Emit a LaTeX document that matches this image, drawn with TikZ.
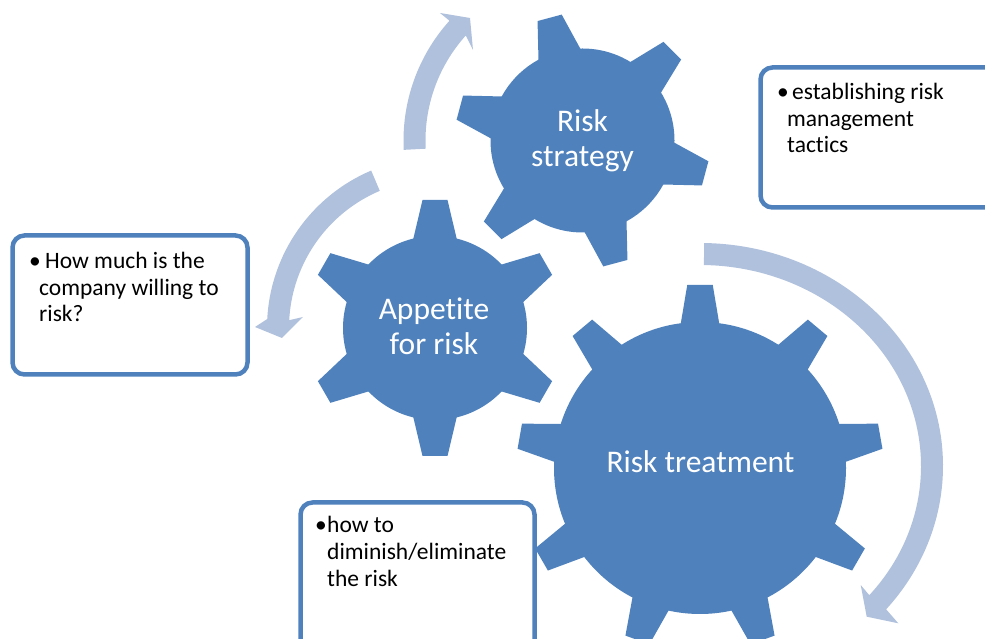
\documentclass[tikz,border=0pt]{standalone}
\usepackage{fontspec}
\setmainfont{Carlito}[Ligatures=NoCommon]
\usetikzlibrary{calc}
\definecolor{gearblue}{RGB}{79,129,189}
\definecolor{arrowblue}{RGB}{176,193,221}
\begin{document}
\begin{tikzpicture}[x=1pt,y=1pt,
  gearfill/.style={fill=gearblue},
  arrowfill/.style={fill=arrowblue},
  notebox/.style={draw=gearblue, line width=4.5pt, fill=white, rounded corners=12pt, inner sep=0pt, outer sep=0pt},
  geartext/.style={text=white, font=\fontsize{31.5}{36}\selectfont, inner sep=0pt, anchor=base},
  notetext/.style={text=black, font=\fontsize{23.5}{26}\selectfont, inner sep=0pt, anchor=base west},
]
\useasboundingbox (0,0) rectangle (985,639);

\coordinate (cS) at (582.5,498.5);
\coordinate (cA) at (435,311);
\coordinate (cT) at (700,171);
\coordinate (cA2) at (438,311);
\coordinate (cT2) at (700,173);

% arrows
\fill[arrowfill] ($(cS)+(183:179)$) arc[start angle=183, end angle=138, radius=179]
  -- (440,626) -- (470,621) -- (473,589) -- ($(cS)+(138:157)$)
  arc[start angle=138, end angle=183, radius=157] -- cycle;
\fill[arrowfill] ($(cA2)+(113:171)$) arc[start angle=113, end angle=177, radius=171]
  -- (255,312) -- (282,301) -- (303,322) -- ($(cA2)+(177:149)$)
  arc[start angle=177, end angle=113, radius=149] -- cycle;
\fill[arrowfill] ($(cT2)+(89:243 and 223)$) arc[start angle=89, end angle=-40, x radius=243, y radius=223]
  -- (898.3,15.7) -- (866.7,22.3) -- (860.7,54) -- ($(cT2)+(-40:221 and 201)$)
  arc[start angle=-40, end angle=89, x radius=221, y radius=201] -- cycle;

% gears
\begin{scope}[shift={(cS)}]
  \fill[gearfill] (0,0) circle[radius=92];
  \foreach \a in {165,105,45,-15,-75,-135}
    \fill[gearfill,rotate=\a] (80,-23.9) -- (127,-12.5) -- (127,12.5) -- (80,23.9) -- cycle;
\end{scope}
\begin{scope}[shift={(cA)}]
  \fill[gearfill] (0,0) circle[radius=92];
  \foreach \a in {90,30,-30,-90,-150,150}
    \fill[gearfill,rotate=\a] (80,-23.9) -- (128,-12.5) -- (128,12.5) -- (80,23.9) -- cycle;
\end{scope}
\begin{scope}[shift={(cT)}]
  \fill[gearfill] (0,0) circle[radius=146];
  \foreach \a in {90,50,10,-30,-70,-110,-150,170,130}
    \fill[gearfill,rotate=\a] (134,-21) -- (183,-12.75) -- (183,12.75) -- (134,21) -- cycle;
\end{scope}

% gear labels
\node[geartext] (s1) at (582.5,507.3) {Risk};
\node[geartext] (s2) at (582.5,472.3) {strategy};
\node[geartext] (p1) at (434,319) {Appetite};
\node[geartext] (p2) at (434,284) {for risk};
\node[geartext] (t1) at (700.5,166.3) {Risk treatment};

% note boxes
\node[notebox, minimum width=235, minimum height=139] (boxA) at (130,334) {};
\node[notebox, minimum width=239.5, minimum height=140] (boxB) at (880.25,501.5) {};
\node[notebox, minimum width=234, minimum height=166.5] (boxC) at (417.5,53.25) {};

\node[notetext] (ab) at (29,370) {•};
\node[notetext] (a1) at (45,370) {How much is the};
\node[notetext] (a2) at (39,343) {company willing to};
\node[notetext] (a3) at (39,317) {risk?};

\node[notetext] (bb) at (777,539) {•};
\node[notetext] (b1) at (792,539) {establishing risk};
\node[notetext] (b2) at (787,512.3) {management};
\node[notetext] (b3) at (787,486.3) {tactics};

\node[notetext] (cb) at (315,106) {•};
\node[notetext] (c1) at (327,106) {how to};
\node[notetext] (c2) at (327,79) {diminish/eliminate};
\node[notetext] (c3) at (327,52) {the risk};
\end{tikzpicture}
\end{document}
